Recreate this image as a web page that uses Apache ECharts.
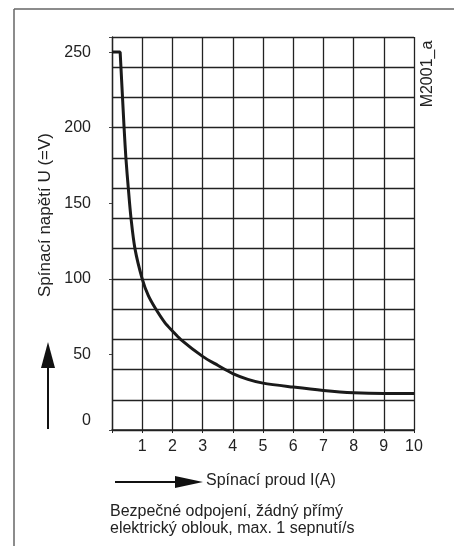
<!DOCTYPE html>
<html>
<head>
<meta charset="utf-8">
<script src="https://cdn.jsdelivr.net/npm/echarts@6/dist/echarts.min.js"></script>
<style>
  html, body { margin: 0; padding: 0; background: #fff; }
  #chart { width: 454px; height: 546px; }
</style>
</head>
<body>
<div id="chart"></div>
<script>
// proud I(A) / napeti U(V) odectene z krivky
var currentA = [0, 0.27, 0.40, 0.46, 0.54, 0.63, 0.76, 1.0, 1.2, 1.42, 1.75, 2.0, 2.27, 3.0, 3.5, 4.0, 4.5, 5.0, 6.0, 7.0, 8.0, 9.0, 10];
var voltageV = [250, 250, 200, 180, 160, 140, 120, 100, 89, 81, 71, 65.5, 60, 48.7, 42.8, 37.3, 33.5, 31, 28.4, 26.2, 24.7, 24.2, 24.2];
var steepEnd = 2; // do tohoto bodu rovne useky, dal hladka krivka

var xTickLabels = ['1', '2', '3', '4', '5', '6', '7', '8', '9', '10'];
var yTickLabels = ['0', '50', '100', '150', '200', '250'];

var yName = 'Spínací napětí U (=V)';
var xName = 'Spínací proud I(A)';
var noteLines = ['Bezpečné odpojení, žádný přímý', 'elektrický oblouk, max. 1 sepnutí/s'];
var drawingId = 'M2001_a';

var font = '"Liberation Sans", Arial, sans-serif';
var ink = '#222';

var chart = echarts.init(document.getElementById('chart'), null, { renderer: 'canvas' });

var straight = [], curve = [];
for (var i = 0; i < currentA.length; i++) {
  if (i <= steepEnd) straight.push([currentA[i], voltageV[i]]);
  if (i >= steepEnd) curve.push([currentA[i], voltageV[i]]);
}

chart.setOption({
  animation: false,
  backgroundColor: '#fff',
  grid: { left: 112, right: 40, top: 37, bottom: 116 },
  xAxis: {
    type: 'value',
    min: 0,
    max: 10,
    interval: 1,
    axisLine: { show: true, lineStyle: { color: ink, width: 1.5 } },
    axisTick: { show: true, length: 3, lineStyle: { color: ink } },
    axisLabel: {
      margin: 9,
      color: ink,
      fontFamily: font,
      fontSize: 16,
      formatter: function (v) {
        var s = String(v);
        return xTickLabels.indexOf(s) >= 0 ? s : '';
      }
    },
    splitLine: { show: true, lineStyle: { color: ink, width: 1.3 } }
  },
  yAxis: [
    {
      type: 'value',
      min: 0,
      max: 260,
      interval: 20,
      axisLine: { show: true, lineStyle: { color: ink, width: 1.3 } },
      axisTick: { show: false },
      axisLabel: { show: false },
      splitLine: { show: true, lineStyle: { color: ink, width: 1.3 } }
    },
    {
      type: 'value',
      position: 'left',
      min: 0,
      max: 260,
      interval: 50,
      axisLine: { show: false },
      axisTick: { show: true, length: 3, lineStyle: { color: '#444' } },
      splitLine: { show: false },
      axisLabel: {
        margin: 21,
        color: ink,
        fontFamily: font,
        fontSize: 16,
        lineHeight: 19,
        formatter: function (v) {
          var s = String(v);
          if (yTickLabels.indexOf(s) < 0) return '';
          return s === '0' ? '0\n' : s;
        }
      }
    }
  ],
  series: [
    {
      type: 'line',
      data: straight,
      symbol: 'none',
      smooth: false,
      clip: false,
      lineStyle: { color: '#1a1a1a', width: 3 }
    },
    {
      type: 'line',
      data: curve,
      symbol: 'none',
      smooth: 0.3,
      clip: false,
      lineStyle: { color: '#1a1a1a', width: 3 }
    }
  ],
  graphic: [
    // ramecek
    { type: 'line', shape: { x1: 14, y1: 9, x2: 454, y2: 9 }, style: { stroke: '#666', lineWidth: 1.5 } },
    { type: 'line', shape: { x1: 14, y1: 9, x2: 14, y2: 546 }, style: { stroke: '#666', lineWidth: 1.5 } },
    // sipka nahoru
    { type: 'line', shape: { x1: 48, y1: 429, x2: 48, y2: 366 }, style: { stroke: '#111', lineWidth: 2 } },
    { type: 'polygon', shape: { points: [[48, 342], [41, 368], [55, 368]] }, style: { fill: '#111' } },
    // sipka doprava
    { type: 'line', shape: { x1: 115, y1: 482, x2: 177, y2: 482 }, style: { stroke: '#111', lineWidth: 2 } },
    { type: 'polygon', shape: { points: [[203, 482], [175, 476], [175, 488]] }, style: { fill: '#111' } },
    {
      type: 'text', x: 45, y: 215, rotation: Math.PI / 2,
      style: { text: yName, font: '17px ' + font, fill: ink, align: 'center', verticalAlign: 'middle' }
    },
    {
      type: 'text', x: 206, y: 481,
      style: { text: xName, font: '16px ' + font, fill: ink, align: 'left', verticalAlign: 'middle' }
    },
    {
      type: 'text', x: 110, y: 512,
      style: { text: noteLines[0], font: '16px ' + font, fill: ink, align: 'left', verticalAlign: 'middle' }
    },
    {
      type: 'text', x: 110, y: 529,
      style: { text: noteLines[1], font: '16px ' + font, fill: ink, align: 'left', verticalAlign: 'middle' }
    },
    {
      type: 'text', x: 428, y: 74, rotation: Math.PI / 2,
      style: { text: drawingId, font: '16px ' + font, fill: ink, align: 'center', verticalAlign: 'middle' }
    }
  ]
});
</script>
</body>
</html>
